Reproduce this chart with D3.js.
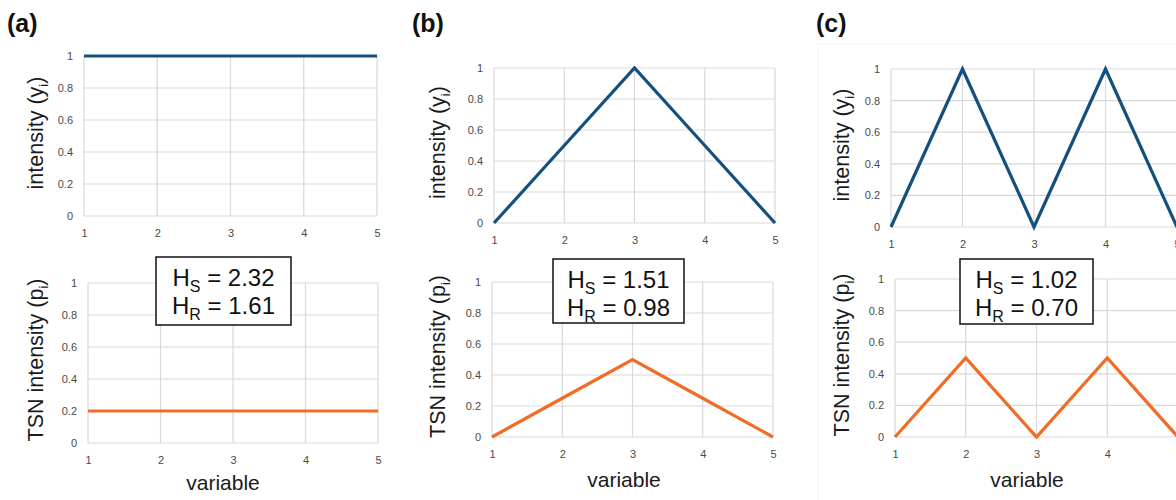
<!DOCTYPE html>
<html>
<head>
<meta charset="utf-8">
<script src="https://cdn.jsdelivr.net/npm/d3@7"></script>
<style>
  body { margin: 0; background: #fff; }
  text { font-family: Arial, "Liberation Sans", sans-serif; }
</style>
</head>
<body>
<svg id="chart" width="1176" height="500"></svg>
<script>
// data
const variables = [1, 2, 3, 4, 5];
const yTicks = [0, 0.2, 0.4, 0.6, 0.8, 1];
const yTickLabels = ["0", "0.2", "0.4", "0.6", "0.8", "1"];
const panelLabels = ["(a)", "(b)", "(c)"];
const intensityA = [1, 1, 1, 1, 1];
const intensityB = [0, 0.5, 1, 0.5, 0];
const intensityC = [0, 1, 0, 1, 0];
const tsnA = [0.2, 0.2, 0.2, 0.2, 0.2];
const tsnB = [0, 0.25, 0.5, 0.25, 0];
const tsnC = [0, 0.5, 0, 0.5, 0];
const hsValues = ["2.32", "1.51", "1.02"];
const hrValues = ["1.61", "0.98", "0.70"];

const blue = "#14507d";
const orange = "#f06d27";
const gridColor = "#d9d9d9";

const svg = d3.select("#chart");

// faint chart-area border seen around panel (c)
svg.append("rect")
  .attr("x", 818).attr("y", 44).attr("width", 400).attr("height", 470)
  .attr("fill", "none").attr("stroke", "#f3f3f3");

// plot boxes for each panel: [left, right, top, bottom]
const panels = [
  { label: panelLabels[0], lx: 7, top: [84, 377, 56, 216], bot: [88, 378, 283, 443], titleX: 35, topY: intensityA, botY: tsnA, box: [156, 291, 257, 325], varX: 223, varY: 490 },
  { label: panelLabels[1], lx: 412, top: [494, 775, 68, 223], bot: [492, 773, 282, 437], titleX: 437, topY: intensityB, botY: tsnB, box: [553, 684, 259, 323], varX: 624, varY: 487 },
  { label: panelLabels[2], lx: 816, top: [891, 1177, 69, 227], bot: [895, 1178, 279, 437], titleX: 841, topY: intensityC, botY: tsnC, box: [960, 1093, 259, 324], varX: 1027, varY: 487 }
];

function drawPlot(bounds, values, color, title, titleX) {
  const [x0, x1, y0, y1] = bounds;
  const x = d3.scaleLinear().domain([1, 5]).range([x0, x1]);
  const y = d3.scaleLinear().domain([0, 1]).range([y1, y0]);
  const g = svg.append("g");

  // grid lines
  g.selectAll(".hg").data(yTicks).join("line")
    .attr("x1", x0).attr("x2", x1)
    .attr("y1", d => y(d)).attr("y2", d => y(d))
    .attr("stroke", gridColor).attr("stroke-width", 1.2);
  g.selectAll(".vg").data(variables).join("line")
    .attr("x1", d => x(d)).attr("x2", d => x(d))
    .attr("y1", y0).attr("y2", y1)
    .attr("stroke", gridColor).attr("stroke-width", 1.2);

  // axes (labels only, lines are the grid)
  const yAxis = g.append("g")
    .attr("transform", `translate(${x0 - 8},0)`)
    .call(d3.axisLeft(y).tickValues(yTicks).tickFormat((d, i) => yTickLabels[i]).tickSize(0));
  const xAxis = g.append("g")
    .attr("transform", `translate(0,${y1 + 10})`)
    .call(d3.axisBottom(x).tickValues(variables).tickFormat(d3.format("d")).tickSize(0));
  [yAxis, xAxis].forEach(a => {
    a.select(".domain").remove();
    a.selectAll("text").attr("fill", "#4a4a4a").attr("font-size", 11);
  });

  // series line
  g.append("path")
    .datum(values)
    .attr("fill", "none")
    .attr("stroke", color)
    .attr("stroke-width", 3.2)
    .attr("stroke-linejoin", "miter")
    .attr("d", d3.line().x((d, i) => x(variables[i])).y(d => y(d)));

  // y title
  const t = svg.append("text")
    .attr("transform", `translate(${titleX},${(y0 + y1) / 2 + (title[0] === "T" ? 2 : -3)}) rotate(-90)`)
    .attr("text-anchor", "middle")
    .attr("dy", "0.35em")
    .attr("font-size", 21.5)
    .attr("fill", "#1a1a1a");
  t.append("tspan").text(title[0]);
  t.append("tspan").attr("font-size", 13).attr("dy", 5).text(title[1]);
  t.append("tspan").attr("dy", -5).text(")");
}

panels.forEach((p, i) => {
  svg.append("text")
    .attr("x", p.lx).attr("y", 32)
    .attr("font-size", 25).attr("font-weight", "bold")
    .attr("fill", "#111")
    .text(p.label);

  drawPlot(p.top, p.topY, blue, ["intensity (y", "i"], p.titleX);
  drawPlot(p.bot, p.botY, orange, ["TSN intensity (p", "i"], p.titleX);

  // entropy box
  const [bx0, bx1, by0, by1] = p.box;
  svg.append("rect")
    .attr("x", bx0).attr("y", by0)
    .attr("width", bx1 - bx0).attr("height", by1 - by0)
    .attr("fill", "#fff").attr("stroke", "#111").attr("stroke-width", 1.5);
  const cx = (bx0 + bx1) / 2;
  [["S", hsValues[i], by0 + 29], ["R", hrValues[i], by0 + 57]].forEach(([sub, val, yy]) => {
    const t = svg.append("text")
      .attr("x", cx).attr("y", yy)
      .attr("text-anchor", "middle")
      .attr("font-size", 24).attr("fill", "#111");
    t.append("tspan").text("H");
    t.append("tspan").attr("font-size", 16).attr("dy", 6).text(sub);
    t.append("tspan").attr("dy", -6).text(" = " + val);
  });

  svg.append("text")
    .attr("x", p.varX).attr("y", p.varY)
    .attr("text-anchor", "middle")
    .attr("font-size", 21).attr("fill", "#1a1a1a")
    .text("variable");
});
</script>
</body>
</html>
